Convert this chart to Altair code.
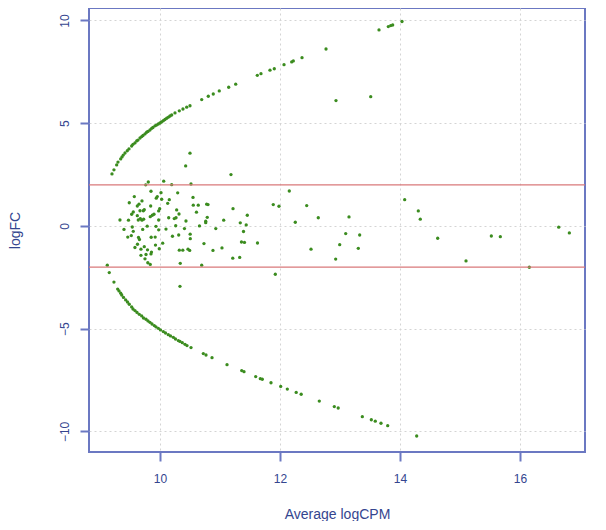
import altair as alt
import pandas as pd

# Upper arc (genes with counts only in one group)
upper_A = [9.20, 9.233, 9.278, 9.30, 9.345, 9.367, 9.388, 9.417, 9.455, 9.483, 9.528, 9.55, 9.583, 9.612,
           9.633, 9.667, 9.695, 9.717, 9.75, 9.778, 9.80, 9.833, 9.862, 9.883, 9.917, 9.942, 9.972, 10.0,
           10.025, 10.055, 10.083, 10.112, 10.142, 10.167, 10.195, 10.25, 10.322, 10.383, 10.445, 10.50,
           10.695, 10.805, 10.888, 10.988, 11.145, 11.262, 11.622, 11.683, 11.833, 11.905, 12.067, 12.195,
           12.222, 12.367, 12.767, 13.65, 13.805, 13.845, 13.878, 14.033]
upper_logFC = [2.53, 2.73, 2.97, 3.11, 3.26, 3.36, 3.45, 3.55, 3.66, 3.75, 3.89, 3.97, 4.04, 4.14,
               4.18, 4.28, 4.35, 4.40, 4.48, 4.56, 4.60, 4.67, 4.75, 4.79, 4.87, 4.91, 4.96, 5.01,
               5.06, 5.12, 5.18, 5.24, 5.30, 5.35, 5.40, 5.50, 5.60, 5.69, 5.78, 5.85,
               6.15, 6.31, 6.42, 6.57, 6.75, 6.90, 7.33, 7.41, 7.58, 7.65, 7.85, 7.98,
               8.03, 8.19, 8.61, 9.54, 9.70, 9.75, 9.78, 9.95]

# Lower arc
lower_A = [9.155, 9.233, 9.295, 9.317, 9.345, 9.362, 9.392, 9.428, 9.458, 9.488, 9.528, 9.55, 9.583, 9.617,
           9.655, 9.695, 9.725, 9.767, 9.80, 9.833, 9.867, 9.905, 9.933, 9.972, 10.008, 10.055, 10.092,
           10.138, 10.175, 10.222, 10.258, 10.305, 10.333, 10.372, 10.417, 10.45, 10.517, 10.722, 10.767,
           10.867, 11.117, 11.362, 11.40, 11.595, 11.672, 11.705, 11.85, 12.012, 12.122, 12.27, 12.353,
           12.655, 12.905, 12.97, 13.372, 13.522, 13.588, 13.683, 13.795, 14.278]
lower_logFC = [-2.27, -2.73, -3.07, -3.16, -3.27, -3.36, -3.48, -3.60, -3.70, -3.81, -3.94, -4.04, -4.12, -4.21,
               -4.30, -4.38, -4.48, -4.54, -4.62, -4.69, -4.77, -4.85, -4.91, -4.98, -5.06, -5.14, -5.21,
               -5.29, -5.35, -5.42, -5.50, -5.58, -5.62, -5.68, -5.76, -5.82, -5.92, -6.21, -6.28,
               -6.41, -6.75, -7.04, -7.09, -7.33, -7.43, -7.46, -7.63, -7.81, -7.94, -8.10, -8.19,
               -8.52, -8.79, -8.86, -9.28, -9.43, -9.50, -9.60, -9.72, -10.22]

# Central cloud
mid_A = [10.428, 10.50, 11.183, 9.762, 9.805, 10.062, 10.195, 10.517, 9.85, 10.017, 10.295, 9.572, 9.955,
         9.938, 10.55, 10.028, 10.155, 9.488, 9.70, 9.65, 9.622, 10.128, 10.555, 10.638, 10.778, 10.80,
         11.217, 11.888, 11.983, 9.845, 9.995, 9.978, 10.278, 9.555, 9.667, 9.722, 9.738, 10.608, 10.317,
         9.90, 9.528, 9.622, 9.838, 9.872, 10.788, 11.455, 10.145, 10.238, 10.267, 10.762, 10.762, 9.333,
         9.475, 9.638, 9.672, 9.70, 9.728, 9.978, 10.433, 11.062, 11.338, 11.437, 10.658, 10.262, 9.538,
         9.787, 9.933, 9.40, 9.712, 9.978, 10.10, 10.408, 10.93, 9.555, 11.392, 9.522, 9.463, 10.208,
         10.312, 10.503, 9.853, 9.92, 9.642, 9.658, 10.505, 10.045, 9.925, 9.625, 11.358, 11.408, 11.625,
         10.733, 9.738, 9.583, 9.988, 9.683, 9.792, 10.322, 10.38, 10.467, 10.495, 10.883, 11.033, 9.767,
         9.683, 9.85, 9.858, 9.75, 11.213, 11.328, 9.797, 9.838, 10.338, 10.695, 9.122, 11.922, 10.333,
         12.155, 12.445, 12.638, 13.15, 12.255, 13.095, 13.328, 12.995, 12.517, 13.305, 12.928, 14.078,
         14.305, 14.338, 14.628, 15.10, 15.522, 15.672, 16.155, 16.645, 16.822, 12.933, 13.512]
mid_logFC = [2.92, 3.54, 2.50, 2.00, 2.14, 2.18, 2.01, 2.04, 1.69, 1.62, 1.61, 1.43, 1.43,
             1.35, 1.39, 1.30, 1.28, 1.13, 1.22, 1.06, 0.97, 1.10, 1.01, 1.01, 1.06, 1.04,
             0.84, 1.04, 0.96, 0.97, 0.84, 0.73, 0.78, 0.68, 0.74, 0.74, 0.79, 0.67, 0.58,
             0.57, 0.57, 0.50, 0.45, 0.52, 0.42, 0.52, 0.40, 0.36, 0.40, 0.23, 0.16, 0.29,
             0.28, 0.29, 0.36, 0.28, 0.33, 0.29, 0.24, 0.28, 0.15, 0.05, 0.00, 0.01, -0.05,
             -0.01, -0.02, -0.17, -0.17, -0.19, -0.15, -0.13, -0.13, -0.26, -0.27, -0.47, -0.54, -0.50,
             -0.44, -0.40, -0.55, -0.54, -0.56, -0.66, -0.62, -0.84, -0.93, -0.89, -0.78, -0.80, -0.83,
             -0.86, -1.01, -1.05, -1.11, -1.13, -1.16, -1.18, -1.18, -1.13, -1.19, -1.19, -1.07, -1.39,
             -1.43, -1.36, -1.27, -1.60, -1.57, -1.53, -1.79, -1.87, -1.82, -1.91, -1.91, -2.35, -2.94,
             1.70, 0.99, 0.40, 0.44, 0.18, -0.37, -0.44, -0.91, -1.13, -1.09, -1.61, 1.28,
             0.73, 0.33, -0.60, -1.70, -0.49, -0.52, -2.01, -0.06, -0.34, 6.10, 6.29]

cutoffs = [2, -2]
x_ticks = [10, 12, 14, 16]
y_ticks = [-10, -5, 0, 5, 10]

pts = pd.DataFrame({
    "A": upper_A + lower_A + mid_A,
    "logFC": upper_logFC + lower_logFC + mid_logFC,
})
rules = pd.DataFrame({"logFC": cutoffs})

AXIS_BLUE = "#6b78c2"
LABEL_BLUE = "#34458f"
FONT = "Liberation Sans"

x_enc = alt.X("A:Q",
              scale=alt.Scale(domain=[8.817, 17.083], nice=False, zero=False),
              axis=alt.Axis(title="Average logCPM", values=x_ticks, format="d",
                            tickSize=9, labelPadding=12, titlePadding=23))
y_enc = alt.Y("logFC:Q",
              scale=alt.Scale(domain=[-11.0, 10.606], nice=False, zero=False),
              axis=alt.Axis(title="logFC", values=y_ticks, format="d",
                            tickSize=9, labelPadding=9, titlePadding=36,
                            labelAngle=270, labelAlign="center", labelBaseline="bottom"))

points = alt.Chart(pts).mark_circle(size=11, color="#3b8c1f", opacity=1).encode(x=x_enc, y=y_enc)

lines = alt.Chart(rules).mark_rule(color="#d9787a", strokeWidth=1.2).encode(y="logFC:Q")

chart = alt.layer(points, lines).properties(
    width=496, height=444,
    padding={"left": 0, "top": 0, "right": 5, "bottom": 0},
).configure_view(
    stroke=AXIS_BLUE, strokeWidth=2
).configure_axis(
    domain=False,
    tickColor=AXIS_BLUE, tickWidth=2,
    labelColor=LABEL_BLUE, labelFont=FONT, labelFontSize=12,
    titleColor=LABEL_BLUE, titleFont=FONT, titleFontSize=14, titleFontWeight="normal",
    grid=True, gridColor="#d4d4d4", gridDash=[2, 3], gridWidth=1,
)

chart.save("out.html", embed_options={"renderer": "svg", "actions": False})
